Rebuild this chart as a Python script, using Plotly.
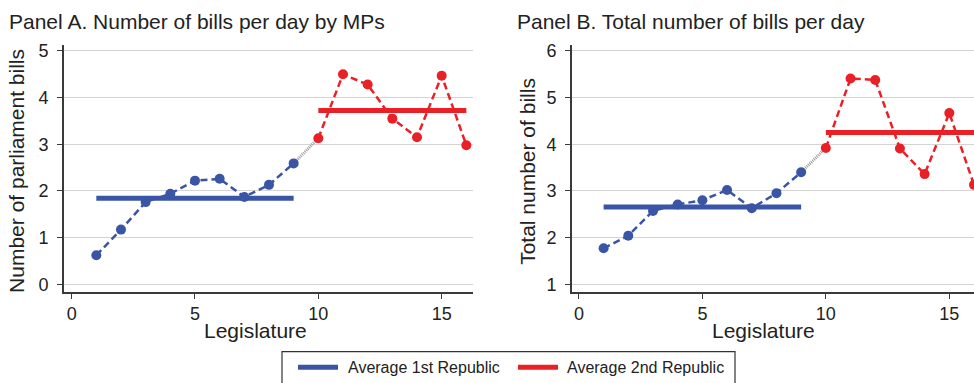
import numpy as np
import plotly.graph_objects as go

# Legislatures 1-9 belong to the 1st Republic, 10-16 to the 2nd Republic
legislature = list(range(1, 17))
first_rep = list(range(1, 10))
second_rep = list(range(10, 17))

# Panel A: parliament (MP) bills per day
mp_bills = [0.62, 1.17, 1.76, 1.94, 2.22, 2.26, 1.87, 2.13, 2.59,
            3.13, 4.50, 4.28, 3.55, 3.15, 4.47, 2.98]
# Panel B: total bills per day
total_bills = [1.77, 2.04, 2.57, 2.71, 2.80, 3.02, 2.63, 2.95, 3.40,
               3.92, 5.41, 5.38, 3.91, 3.36, 4.67, 3.13]

x_ticks = [0, 5, 10, 15]
y_ticks_a = [0, 1, 2, 3, 4, 5]
y_ticks_b = [1, 2, 3, 4, 5, 6]

BLUE = "#3a55a5"
RED = "#ea2027"
FONT = "Liberation Sans, Arial, Helvetica, sans-serif"
W, H = 974, 383


def px(x):
    return x / W


def py(y):
    return 1 - y / H


fig = go.Figure()


def add_panel(values, xa, ya):
    vals = np.array(values)
    n1 = len(first_rep)
    avg1 = vals[:n1].mean()
    avg2 = vals[n1:].mean()
    # period averages
    fig.add_trace(go.Scatter(x=[first_rep[0], first_rep[-1]], y=[avg1, avg1],
                             mode="lines", line=dict(color=BLUE, width=5),
                             xaxis=xa, yaxis=ya, showlegend=False,
                             name="Average 1st Republic"))
    fig.add_trace(go.Scatter(x=[second_rep[0], second_rep[-1]], y=[avg2, avg2],
                             mode="lines", line=dict(color=RED, width=5),
                             xaxis=xa, yaxis=ya, showlegend=False,
                             name="Average 2nd Republic"))
    # gray link across the regime change
    fig.add_trace(go.Scatter(x=[first_rep[-1], second_rep[0]],
                             y=[vals[n1 - 1], vals[n1]],
                             mode="lines",
                             line=dict(color="#9a9a9a", width=3, dash="1px,1px"),
                             xaxis=xa, yaxis=ya, showlegend=False))
    # legislature-level series
    fig.add_trace(go.Scatter(x=first_rep, y=vals[:n1], mode="lines+markers",
                             line=dict(color=BLUE, width=2.5, dash="7px,4px"),
                             marker=dict(color=BLUE, size=10),
                             xaxis=xa, yaxis=ya, showlegend=False))
    fig.add_trace(go.Scatter(x=second_rep, y=vals[n1:], mode="lines+markers",
                             line=dict(color=RED, width=2.5, dash="7px,4px"),
                             marker=dict(color=RED, size=10),
                             xaxis=xa, yaxis=ya, showlegend=False))


add_panel(mp_bills, "x", "y")
add_panel(total_bills, "x2", "y2")

axis_common = dict(showline=True, linecolor="#3a3a3a", ticks="outside",
                   ticklen=5, tickwidth=1.2, tickcolor="#3a3a3a",
                   tickfont=dict(family=FONT, size=18, color="#222"),
                   zeroline=False)

xdom_a = [px(64), px(473)]
xdom_b = [px(572), 1.0]
ydom = [py(293), py(41.7)]

fig.update_layout(
    width=W, height=H,
    margin=dict(l=0, r=0, t=0, b=0),
    paper_bgcolor="white", plot_bgcolor="white",
    font=dict(family=FONT, color="#222"),
    xaxis=dict(domain=xdom_a, anchor="y", range=[-0.31, 16.27],
               tickvals=x_ticks, showgrid=False, linewidth=2.2,
               **axis_common),
    yaxis=dict(domain=ydom, anchor="x", range=[-0.16, 5.13],
               tickvals=y_ticks_a, showgrid=True, gridcolor="#d4d4d4",
               gridwidth=1.2, linewidth=1.6, ticklabelstandoff=5,
               **axis_common),
    xaxis2=dict(domain=xdom_b, anchor="y2", range=[-0.28, 16.0],
                tickvals=x_ticks, showgrid=False, linewidth=2.2,
                **axis_common),
    yaxis2=dict(domain=ydom, anchor="x2", range=[0.84, 6.13],
                tickvals=y_ticks_b, showgrid=True, gridcolor="#d4d4d4",
                gridwidth=1.2, linewidth=1.6, ticklabelstandoff=5,
                **axis_common),
)

ann = []
title_font = dict(family=FONT, size=21, color="#222")
ann.append(dict(text="Panel A. Number of bills per day by MPs", x=px(7), y=py(18),
                xref="paper", yref="paper", xanchor="left", yanchor="middle",
                showarrow=False, font=title_font))
ann.append(dict(text="Panel B. Total number of bills per day", x=px(515), y=py(18),
                xref="paper", yref="paper", xanchor="left", yanchor="middle",
                showarrow=False, font=title_font))
ann.append(dict(text="Legislature", x=px(255), y=py(333), xref="paper", yref="paper",
                xanchor="center", yanchor="middle", showarrow=False, font=title_font))
ann.append(dict(text="Legislature", x=px(763), y=py(333), xref="paper", yref="paper",
                xanchor="center", yanchor="middle", showarrow=False, font=title_font))
ann.append(dict(text="Number of parliament bills", x=px(17), y=py(170), textangle=-90,
                xref="paper", yref="paper", xanchor="center", yanchor="middle",
                showarrow=False, font=title_font))
ann.append(dict(text="Total number of bills", x=px(528), y=py(171), textangle=-90,
                xref="paper", yref="paper", xanchor="center", yanchor="middle",
                showarrow=False, font=title_font))

# legend box with the two average-line keys
legend_font = dict(family=FONT, size=16, color="#222")
ann.append(dict(text="Average 1st Republic", x=px(346), y=py(370), xref="paper",
                yref="paper", xanchor="left", yanchor="middle", showarrow=False,
                font=legend_font))
ann.append(dict(text="Average 2nd Republic", x=px(565), y=py(370), xref="paper",
                yref="paper", xanchor="left", yanchor="middle", showarrow=False,
                font=legend_font))
fig.update_layout(annotations=ann)

fig.add_shape(type="rect", xref="paper", yref="paper",
              x0=px(282), x1=px(735), y0=py(395), y1=py(354),
              line=dict(color="#333", width=1.2), fillcolor="rgba(0,0,0,0)")
fig.add_shape(type="line", xref="paper", yref="paper",
              x0=px(298), x1=px(338), y0=py(370), y1=py(370),
              line=dict(color=BLUE, width=5))
fig.add_shape(type="line", xref="paper", yref="paper",
              x0=px(518), x1=px(558), y0=py(370), y1=py(370),
              line=dict(color=RED, width=5))

fig.write_html("out.html")
